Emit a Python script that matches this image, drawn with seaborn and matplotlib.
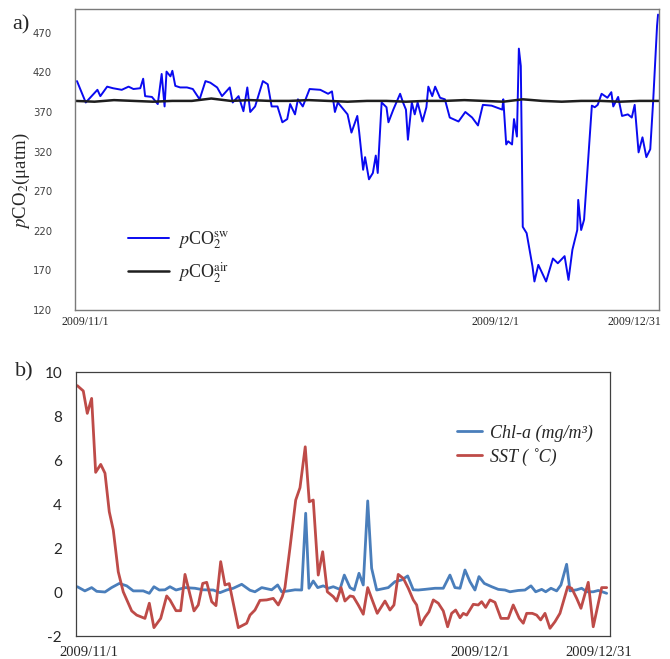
import numpy as np
import pandas as pd
import matplotlib
matplotlib.use("Agg")
import matplotlib.pyplot as plt
import seaborn as sns

# --- panel a: pCO2 (time in days from 2009/11/1, category-like axis) ---
sw_t = [0.2, 1.1, 2.3, 2.6, 3.3, 3.9, 4.8, 5.5, 6.0, 6.7, 7.0, 7.2, 7.9, 8.5, 8.9, 9.2, 9.4, 9.8, 10.0,
        10.3, 10.8, 11.5, 12.1, 12.8, 13.4, 13.9, 14.6, 15.1, 15.9, 16.2, 16.8, 17.3, 17.7, 18.0,
        18.5, 19.3, 19.8, 20.2, 20.8, 21.3, 21.8, 22.1, 22.6, 22.9, 23.4, 24.1, 25.2, 26.0, 26.4,
        26.7, 27.0, 28.0, 28.4, 29.0, 29.2, 29.6, 29.8, 30.2, 30.6, 30.9, 31.1, 31.5, 32.0, 32.2,
        32.7, 33.4, 33.7, 34.0, 34.2, 34.6, 34.9, 35.2, 35.7, 36.1, 36.3, 36.7, 37.0, 37.5, 38.0,
        38.5, 39.4, 40.1, 40.8, 41.4, 41.9, 42.8, 43.9, 44.0, 44.3, 44.5, 44.9, 45.1, 45.4, 45.6,
        45.8, 46.0, 46.4, 47.0, 47.2, 47.6, 48.4, 49.1, 49.6, 50.3, 50.7, 51.1, 51.6, 51.7, 52.0,
        52.3, 53.1, 53.4, 53.7, 54.1, 54.7, 55.1, 55.3, 55.8, 56.2, 56.8, 57.2, 57.5, 57.9, 58.3,
        58.7, 59.1, 59.4, 59.8, 59.9]
sw_v = [409, 382, 398, 390, 402, 400, 398, 402, 399, 400, 412, 390, 389, 380, 418, 377, 421, 415, 422,
        403, 401, 401, 399, 386, 409, 407, 401, 390, 401, 382, 390, 371, 401, 370,
        377, 409, 405, 377, 377, 357, 361, 380, 367, 386, 377, 399, 398, 393, 396,
        370, 382, 367, 344, 365, 344, 297, 313, 285, 293, 315, 293, 382, 376, 357,
        373, 393, 382, 373, 335, 382, 367, 382, 358, 376, 402, 390, 402, 388, 386,
        363, 358, 370, 363, 353, 379, 378, 373, 386, 329, 333, 329, 361, 339, 450,
        428, 225, 217, 175, 156, 177, 156, 185, 179, 188, 158, 196, 221, 259, 221,
        234, 378, 376, 379, 393, 388, 395, 377, 389, 365, 367, 363, 379, 319, 338,
        313, 323, 384, 479, 493]
air_t = [0, 2, 4, 6, 8, 10, 12, 14, 16, 18, 20, 22, 24, 26, 28, 30, 32, 34, 36, 38, 40,
         42, 44, 46, 48, 50, 52, 54, 56, 58, 60]
air_v = [384, 383, 385, 384, 383, 384, 384, 387, 384, 385, 384, 384, 385, 384, 383, 384,
         384, 383, 384, 384, 385, 384, 383, 386, 384, 383, 384, 384, 383, 384, 384]
a_yticks = [120, 170, 220, 270, 320, 370, 420, 470]
a_xlabels = ["2009/11/1", "2009/12/1", "2009/12/31"]
a_xlabel_pos = [1.1, 43.15, 57.5]

# --- panel b: Chl-a and SST anomaly ---
chl_t = [0.15, 1.0, 1.76, 2.33, 3.26, 4.0, 4.87, 5.7, 6.44, 7.56, 8.24, 8.76, 9.36, 10.0, 10.56,
         11.24, 12.25, 13.37, 14.3, 15.43, 16.18, 16.93, 17.67, 18.62, 19.55, 20.11, 20.87, 21.99,
         22.66, 23.11, 23.85, 24.61, 25.36, 25.81, 26.18, 26.66, 27.16, 27.79, 28.35, 28.91, 29.66,
         30.15, 30.79, 31.27, 31.8, 32.28, 32.78, 33.22, 33.79, 35.09, 35.84, 36.6, 37.27, 37.9,
         38.46, 39.21, 40.34, 41.27, 42.02, 42.58, 43.15, 43.71, 44.27, 44.83, 45.28, 45.88, 46.71,
         47.45, 48.2, 48.76, 49.69, 50.45, 51.12, 51.65, 52.33, 52.78, 53.37, 54.01, 54.49, 55.13,
         55.51, 56.26, 56.82, 57.38, 58.12, 58.69, 59.63]
chl_v = [0.24, 0.05, 0.2, 0.03, 0.0, 0.2, 0.39, 0.28, 0.05, 0.05, -0.06, 0.24, 0.09, 0.1, 0.24,
         0.09, 0.2, 0.17, 0.1, 0.09, -0.03, 0.09, 0.17, 0.35, 0.08, 0.01, 0.2, 0.1,
         0.32, 0.01, 0.05, 0.1, 0.09, 3.58, 0.17, 0.5, 0.2, 0.28, 0.17, 0.24, 0.12,
         0.77, 0.2, 0.09, 0.85, 0.32, 4.14, 1.08, 0.09, 0.2, 0.47, 0.55, 0.73, 0.1,
         0.09, 0.12, 0.17, 0.17, 0.77, 0.2, 0.17, 1.0, 0.47, 0.09, 0.7, 0.39, 0.24,
         0.12, 0.09, 0.01, 0.07, 0.09, 0.28, 0.01, 0.12, 0.01, 0.17, 0.05, 0.32, 1.26,
         0.05, 0.1, 0.17, 0.01, 0.01, 0.07, -0.06]
sst_t = [0.15, 0.82, 1.27, 1.76, 2.21, 2.78, 3.26, 3.74, 4.19, 4.75, 5.31, 6.26, 6.82, 7.75, 8.24,
         8.76, 9.52, 10.19, 10.56, 11.24, 11.76, 12.25, 13.26, 13.74, 14.24, 14.69, 15.25, 15.73,
         16.26, 16.74, 17.22, 18.24, 19.18, 19.55, 20.11, 20.67, 21.43, 22.17, 22.73, 23.18, 23.48,
         24.04, 24.69, 25.17, 25.76, 26.21, 26.66, 27.22, 27.72, 28.24, 28.91, 29.29, 29.78, 30.22,
         30.79, 31.16, 31.72, 32.28, 32.78, 33.22, 33.85, 34.72, 35.28, 35.73, 36.21, 36.78, 37.34,
         37.9, 38.28, 38.73, 39.21, 39.66, 40.15, 40.71, 41.27, 41.76, 42.21, 42.66, 43.15, 43.52,
         43.9, 44.64, 45.2, 45.58, 46.03, 46.52, 47.08, 47.75, 48.57, 49.13, 49.81, 50.26, 50.64,
         51.27, 51.76, 52.21, 52.7, 53.26, 53.82, 54.38, 55.25, 55.7, 56.26, 56.74, 57.56, 58.12,
         59.07, 59.63]
sst_v = [9.38, 9.14, 8.12, 8.8, 5.44, 5.8, 5.4, 3.65, 2.82, 0.92, 0.01, -0.86, -1.05, -1.2, -0.51,
         -1.62, -1.2, -0.18, -0.36, -0.85, -0.85, 0.8, -0.86, -0.59, 0.39, 0.44, -0.44, -0.62,
         1.38, 0.32, 0.38, -1.62, -1.42, -1.05, -0.82, -0.38, -0.36, -0.29, -0.59, -0.21, 0.2,
         1.99, 4.18, 4.74, 6.6, 4.1, 4.18, 0.77, 1.83, 0.01, -0.21, -0.41, 0.2, -0.41,
         -0.18, -0.21, -0.59, -1.01, 0.2, -0.29, -0.97, -0.41, -0.82, -0.59, 0.8, 0.62, 0.17,
         -0.36, -0.59, -1.5, -1.15, -0.9, -0.36, -0.51, -0.86, -1.58, -0.97, -0.82, -1.17, -0.97,
         -1.05, -0.56, -0.59, -0.44, -0.7, -0.36, -0.47, -1.2, -1.2, -0.59, -1.2, -1.42, -0.97,
         -0.97, -1.05, -1.27, -0.97, -1.65, -1.35, -0.97, 0.24, 0.17, -0.29, -0.74, 0.44, -1.58,
         0.2, 0.2]
b_yticks = [-2, 0, 2, 4, 6, 8, 10]
b_xlabels = ["2009/11/1", "2009/12/1", "2009/12/31"]
b_xlabel_pos = [1.5, 45.35, 58.7]

sns.set_style("white")
plt.rcParams["mathtext.fontset"] = "stix"
serif = ["Liberation Serif", "DejaVu Serif"]

fig = plt.figure(figsize=(6.7, 6.59), dpi=100)
ax1 = fig.add_axes([0.112, 0.5296, 0.8716, 0.4567])
ax2 = fig.add_axes([0.1134, 0.0349, 0.797, 0.4006])

# panel a
sns.lineplot(x=sw_t, y=sw_v, ax=ax1, color="#0a0af0", lw=1.4, estimator=None, sort=False,
             label=r"$p$CO$_2^{\rm sw}$")
sns.lineplot(x=air_t, y=air_v, ax=ax1, color="#1e1e1e", lw=1.8, estimator=None, sort=False,
             label=r"$p$CO$_2^{\rm air}$")
ax1.set_xlim(0, 60)
ax1.set_ylim(120, 500)
ax1.set_yticks(a_yticks)
ax1.tick_params(axis="y", direction="inout", length=5, width=0.8, color="#808080",
                pad=14, labelsize=7.3, labelcolor="#404040")
ax1.set_xticks(a_xlabel_pos)
ax1.set_xticklabels(a_xlabels, family=serif, fontsize=8.5)
ax1.tick_params(axis="x", length=0, pad=4)
ax1.set_xticks([43.1], minor=True)
ax1.tick_params(axis="x", which="minor", direction="in", length=3, color="#555555")
for sp in ax1.spines.values():
    sp.set_color("#7a7a7a")
    sp.set_linewidth(1.0)
ax1.set_ylabel(r"$p$CO$_2$(μatm)", family=serif, fontsize=13.5)
ax1.yaxis.set_label_coords(-0.074, 0.43)
ax1.legend(loc="center left", bbox_to_anchor=(0.09, 0.175), frameon=False, borderpad=0,
           borderaxespad=0, handlelength=2.3, handletextpad=0.5, labelspacing=0.5,
           prop={"family": serif, "size": 13})
fig.text(0.018, 0.963, "a)", family=serif, fontsize=16, va="center")

# panel b
sns.lineplot(x=chl_t, y=chl_v, ax=ax2, color="#4a7ebb", lw=2, estimator=None, sort=False,
             label="Chl-a (mg/m³)")
sns.lineplot(x=sst_t, y=sst_v, ax=ax2, color="#be4b48", lw=2, estimator=None, sort=False,
             label="SST ( ˚C)")
ax2.set_xlim(0, 60)
ax2.set_ylim(-2, 10)
ax2.set_yticks(b_yticks)
ax2.set_yticklabels([str(v) for v in b_yticks], family=["Lato", "DejaVu Sans"], fontsize=11)
ax2.tick_params(axis="y", direction="out", length=4, width=0.8, color="#404040", pad=6)
ax2.set_xticks(b_xlabel_pos)
ax2.set_xticklabels(b_xlabels, family=serif, fontsize=10.5)
ax2.tick_params(axis="x", length=0, pad=7)
ax2.set_xticks([45.73], minor=True)
ax2.tick_params(axis="x", which="minor", direction="in", length=4, color="#404040")
for sp in ax2.spines.values():
    sp.set_color("#404040")
    sp.set_linewidth(0.9)
ax2.legend(loc="center left", bbox_to_anchor=(0.7135, 0.7235), frameon=False, borderpad=0,
           borderaxespad=0, handlelength=1.4, handletextpad=0.45, labelspacing=0.35,
           prop={"family": serif, "size": 13, "style": "italic"})
fig.text(0.022, 0.436, "b)", family=serif, fontsize=16, va="center")

fig.savefig("out.png", dpi=100)
